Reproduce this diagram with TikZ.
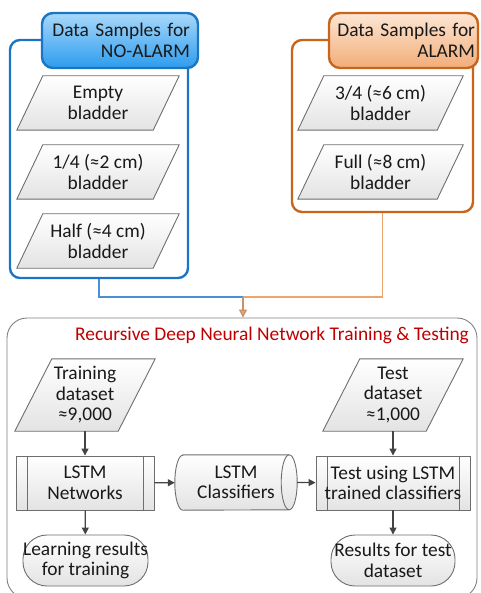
\documentclass[tikz,border=0pt]{standalone}
\usepackage{fontspec}
\setmainfont{Carlito}
\usetikzlibrary{arrows.meta,backgrounds,calc}
\definecolor{blueB}{HTML}{1C74C4}
\definecolor{blueT}{HTML}{A8D8FA}
\definecolor{blueD}{HTML}{2D9CEE}
\definecolor{blueL}{HTML}{4A90D9}
\definecolor{orB}{HTML}{C8651B}
\definecolor{orT}{HTML}{FCE6D4}
\definecolor{orD}{HTML}{F2AD78}
\definecolor{orL}{HTML}{EFA46A}
\definecolor{mergeC}{HTML}{C8916A}
\definecolor{edgeC}{HTML}{6E6E6E}
\definecolor{arrC}{HTML}{444444}
\definecolor{titleC}{HTML}{C00000}
\begin{document}
\begin{tikzpicture}[x=1pt,y=-1pt,
  font=\fontsize{19.4}{20.5}\selectfont,
  every node/.style={inner sep=0pt, align=center, text=black!90},
  cont/.style={draw, line width=2.4pt, rounded corners=10pt},
  header/.style={draw, line width=2.4pt, rounded corners=11pt, align=right},
  txtbox/.style={minimum height=54pt},
  procbox/.style={draw=edgeC, line width=0.9pt, top color=white, bottom color=black!11,
    minimum height=54pt,
    path picture={\draw[edgeC, line width=0.9pt]
      ([xshift=11pt]path picture bounding box.north west) -- ([xshift=11pt]path picture bounding box.south west)
      ([xshift=-11pt]path picture bounding box.north east) -- ([xshift=-11pt]path picture bounding box.south east);}},
  term/.style={draw=edgeC, line width=0.9pt, top color=white, bottom color=black!11,
    rounded corners=24pt, minimum height=51pt},
  parafill/.style={draw=edgeC, line width=0.9pt, top color=white, bottom color=black!11},
  arr/.style={draw=arrC, line width=1.3pt, -{Triangle[width=7pt,length=7pt]}},
]
\useasboundingbox (0,0) rectangle (480,593);
\clip (0,0) rectangle (480,593);

% containers
\node[cont, draw=blueB, minimum width=178pt, minimum height=238pt] (na) at (99,159) {};
\node[cont, draw=orB, minimum width=181pt, minimum height=172pt] (al) at (382.5,126) {};
\node[draw=black!50, line width=0.9pt, rounded corners=20pt, minimum width=470pt, minimum height=280pt] (rd) at (242,458) {};

% headers
\node[header, draw=blueB, top color=blueT, bottom color=blueD, minimum width=156pt, minimum height=55pt, text width=140pt] (nah) at (120,40.5) {Data Samples for\\NO-ALARM};
\node[header, draw=orB, top color=orT, bottom color=orD, minimum width=149pt, minimum height=55pt, text width=143pt] (alh) at (403.5,40.5) {Data Samples for\\ALARM};

% data nodes (parallelogram bodies)
\node[txtbox, minimum width=162pt] (e1) at (98,103) {Empty\\bladder};
\node[txtbox, minimum width=162pt] (e2) at (98,172) {1/4 (≈2 cm)\\bladder};
\node[txtbox, minimum width=162pt] (e3) at (98,241) {Half (≈4 cm)\\bladder};
\node[txtbox, minimum width=165pt] (a1) at (380.5,103) {3/4 (≈6 cm)\\bladder};
\node[txtbox, minimum width=165pt] (a2) at (380.5,172) {Full (≈8 cm)\\bladder};
\node[minimum width=140pt, minimum height=72pt] (trd) at (85,395) {Training\\dataset\\≈9,000};
\node[minimum width=140pt, minimum height=72pt] (tsd) at (393,395) {Test\\dataset\\≈1,000};

\begin{scope}[on background layer]
  \foreach \n/\s in {e1/26,e2/26,e3/26,a1/26,a2/26,trd/37,tsd/37}
    \path[parafill] (\n.south west) -- ($(\n.north west)+(\s,0)$) -- (\n.north east) -- ($(\n.south east)-(\s,0)$) -- cycle;
\end{scope}

% title
\node[text=titleC] (ttl) at (272,335) {Recursive Deep Neural Network Training \& Testing};

% process boxes
\node[procbox, minimum width=138pt] (lstm) at (85,483) {LSTM\\Networks};
\node[procbox, minimum width=154pt] (tst) at (393,483) {Test using LSTM\\trained classifiers};

% classifiers (horizontal cylinder)
\node[minimum width=122pt, minimum height=55pt] (cls) at (236,482.5) {LSTM\\Classifiers};
\begin{scope}[on background layer]
  \path[parafill] ($(cls.north west)+(8,0)$) -- ($(cls.north east)-(8,0)$)
     arc[start angle=-90, end angle=90, x radius=8, y radius=27.5]
     -- ($(cls.south west)+(8,0)$)
     arc[start angle=90, end angle=270, x radius=8, y radius=27.5] -- cycle;
\end{scope}
\draw[edgeC, line width=0.9pt] ($(cls.north east)-(8,0)$) arc[start angle=-90, end angle=-270, x radius=8, y radius=27.5];

% terminators
\node[term, minimum width=125pt] (lr) at (85.5,560.5) {Learning results\\for training};
\node[term, minimum width=124pt] (rt) at (393,560.5) {Results for test\\dataset};

% connectors
\coordinate (mg) at (243,297);
\draw[blueL, line width=1.3pt] (na.south) |- (mg);
\draw[orL, line width=1.3pt] (al.south) |- (mg);
\draw[mergeC, line width=1.3pt, -{Triangle[width=8pt,length=8pt,fill=orL]}] (mg) -- (mg |- rd.north);

\draw[arr] (trd) -- (lstm);
\draw[arr] (lstm) -- (lr);
\draw[arr] (lstm) -- (cls);
\draw[arr] (cls.east) -- (tst);
\draw[arr] (tsd) -- (tst);
\draw[arr] (tst) -- (rt);
\end{tikzpicture}
\end{document}
